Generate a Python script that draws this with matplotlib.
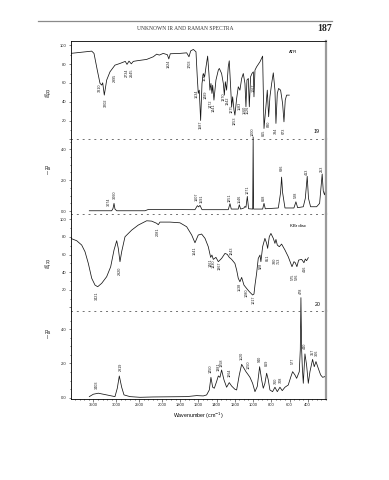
import numpy as np
import matplotlib
matplotlib.use('Agg')
import matplotlib.pyplot as plt
from matplotlib.lines import Line2D

plt.rcParams['font.family'] = ['Liberation Sans', 'DejaVu Sans']

# spectrum 19, IR (ATR): (wavenumber, %T)
ir19 = [(4000, 91.4), (3539, 93.8), (3489, 91.4), (3417, 73.6), (3357, 59.5), (3320, 57.7),
        (3298, 60.1), (3263, 47.0), (3211, 63.0), (3138, 71.8), (3029, 78.9), (2919, 80.7),
        (2803, 82.9), (2765, 79.7), (2721, 83.2), (2671, 80.3), (2627, 82.9), (2553, 83.5),
        (2333, 85.0), (2189, 87.8), (2114, 90.6), (2057, 89.6), (1985, 91.4), (1940, 90.0),
        (1924, 85.5), (1908, 91.0), (1802, 91.4), (1728, 92.0), (1703, 87.8), (1684, 94.1),
        (1655, 95.6), (1626, 93.1), (1612, 66.5), (1601, 48.8), (1590, 52.3), (1575, 20.0),
        (1560, 59.4), (1546, 70.0), (1531, 66.5), (1516, 77.1), (1498, 88.5), (1484, 70.0),
        (1473, 52.3), (1462, 59.4), (1451, 48.8), (1443, 57.6), (1429, 41.7), (1407, 63.0),
        (1381, 73.6), (1370, 75.4), (1345, 70.0), (1326, 59.4), (1315, 47.0), (1304, 61.2),
        (1290, 52.3), (1272, 77.1), (1261, 83.5), (1246, 55.9), (1235, 34.6), (1224, 45.2),
        (1209, 31.0), (1199, 25.7), (1180, 43.4), (1162, 55.9), (1144, 52.3), (1125, 64.7),
        (1107, 70.0), (1089, 59.4), (1078, 34.6), (1067, 63.0), (1052, 64.7), (1041, 34.6),
        (1027, 66.5), (1012, 70.0), (997, 71.8), (990, 45.2), (979, 73.6), (961, 77.1),
        (924, 82.5), (895, 88.5), (880, 11.5), (859, 34.6), (844, 52.3), (829, 24.0),
        (815, 45.2), (796, 59.4), (778, 70.7), (760, 52.3), (749, 16.9), (734, 48.8),
        (720, 54.1), (698, 52.3), (676, 38.1), (661, 18.6), (647, 41.7), (632, 47.0), (603, 47.0)]

# spectrum 19, Raman: (wavenumber, intensity)
ra19 = [(3592, 0.02), (3101, 0.02), (3072, 0.17), (3050, 0.5), (3029, 0.13), (2991, 0.02),
        (2371, 0.02), (2300, 0.1), (2000, 0.1), (1637, 0.09), (1611, 0.35), (1597, 0.27),
        (1582, 0.37), (1560, 0.09), (1272, 0.09), (1253, 0.48), (1239, 0.13), (1162, 0.13),
        (1151, 0.41), (1136, 0.13), (1100, 0.2), (1089, 0.3), (1078, 0.24), (1063, 0.95),
        (1049, 0.15), (1004, 0.13), (999, 4.8), (994, 0.13), (895, 0.13), (880, 0.5),
        (866, 0.15), (723, 0.2), (698, 1.2), (687, 2.2), (676, 1.2), (650, 0.2), (552, 0.2),
        (530, 0.6), (511, 0.22), (449, 0.28), (427, 0.82), (406, 2.25), (392, 0.82),
        (369, 0.28), (303, 0.28), (270, 0.5), (242, 2.4), (230, 1.3), (216, 1.05), (200, 1.5)]

# spectrum 20, IR (KBr disc)
ir20 = [(4000, 78.4), (3868, 75.7), (3759, 70.8), (3686, 63.2), (3614, 50.0), (3539, 33.0),
        (3467, 25.3), (3408, 23.4), (3320, 27.3), (3211, 34.8), (3123, 46.1), (3050, 65.1),
        (2991, 75.7), (2956, 67.0), (2919, 51.8), (2882, 63.2), (2809, 80.2), (2662, 87.8),
        (2518, 93.5), (2333, 98.4), (2224, 98.0), (2114, 95.5), (2079, 93.9), (2042, 96.9),
        (1911, 96.9), (1802, 96.1), (1728, 91.6), (1673, 82.2), (1637, 73.4), (1601, 82.2),
        (1564, 83.3), (1527, 78.4), (1491, 68.9), (1465, 56.8), (1451, 59.4), (1436, 54.5),
        (1407, 56.8), (1381, 51.9), (1345, 55.6), (1308, 61.3), (1283, 60.2), (1261, 56.8),
        (1235, 54.5), (1199, 49.9), (1180, 42.4), (1162, 32.9), (1144, 29.1), (1125, 34.0),
        (1100, 25.3), (1071, 21.5), (1041, 17.8), (1005, 14.0), (990, 15.1), (979, 25.3),
        (961, 38.6), (943, 55.6), (924, 59.4), (914, 51.9), (895, 68.9), (870, 78.4),
        (851, 72.7), (840, 67.0), (822, 80.3), (804, 84.0), (778, 78.4), (760, 72.7),
        (749, 77.2), (734, 70.8), (712, 68.9), (687, 71.9), (650, 65.1), (614, 57.5),
        (573, 46.2), (551, 51.9), (537, 50.7), (519, 46.2), (500, 53.7), (467, 54.5),
        (442, 50.7), (427, 54.9), (413, 53.0), (394, 56.4)]

# spectrum 20, Raman
ra20 = [(3592, 0.06), (3504, 0.2), (3395, 0.26), (3285, 0.2), (3138, 0.12), (3029, 0.06),
        (2978, 0.55), (2934, 1.27), (2882, 0.61), (2831, 0.16), (2700, 0.06), (2480, 0.02),
        (2189, 0.04), (1728, 0.06), (1618, 0.12), (1546, 0.1), (1509, 0.16), (1480, 0.45),
        (1462, 1.19), (1443, 0.61), (1425, 0.55), (1400, 0.94), (1381, 1.27), (1363, 1.19),
        (1345, 1.62), (1319, 1.04), (1290, 0.61), (1261, 0.88), (1235, 0.68), (1199, 0.49),
        (1180, 0.45), (1151, 1.33), (1125, 1.95), (1100, 1.72), (1078, 1.52), (1052, 1.33),
        (1034, 1.19), (1005, 0.84), (979, 0.35), (954, 0.65), (928, 1.81), (906, 1.04),
        (888, 0.55), (870, 0.84), (851, 1.43), (833, 1.04), (815, 0.45), (786, 0.35),
        (760, 0.61), (734, 0.35), (705, 0.61), (680, 0.41), (650, 0.61), (614, 0.74),
        (585, 1.23), (566, 1.52), (541, 1.33), (522, 1.13), (493, 1.52), (482, 2.79),
        (475, 5.85), (467, 2.79), (460, 1.81), (449, 0.84), (431, 2.56), (413, 1.91),
        (394, 0.84), (376, 1.52), (347, 2.24), (329, 1.81), (310, 2.11), (285, 1.72),
        (259, 1.33), (237, 1.19), (212, 1.23), (200, 1.33)]

# peak labels: (text, wavenumber position, height of label centre)
ir19_labels = [('3310', 3357, 54.5), ('3202', 3232, 39), ('2995', 3029, 65), ('2734', 2765, 71),
               ('2645', 2650, 71), ('1924', 1924, 80), ('1703', 1700, 80), ('1634', 1619, 48),
               ('1587', 1575, 15), ('1530', 1527, 67), ('1489', 1516, 47), ('1472', 1465, 37.4),
               ('1441', 1429, 33.7), ('1370', 1326, 45), ('1342', 1283, 40.6), ('1275', 1235, 32),
               ('1253', 1199, 19.4), ('1183', 1144, 35.3), ('1160', 1096, 31.6), ('1126', 1063, 31.6),
               ('1067', 990, 54.5), ('865', 880, 6.5), ('830', 826, 17), ('784', 749, 9),
               ('673', 661, 9)]
ra19_labels = [('3074', 3153, 0.62), ('3060', 3029, 1.07), ('1607', 1619, 0.9), ('1591', 1564, 0.78),
               ('1251', 1253, 0.87), ('1146', 1144, 0.81), ('1071', 1063, 1.36), ('1000', 999, 5.12),
               ('868', 880, 0.87), ('686', 687, 2.79), ('528', 530, 1.04), ('413', 406, 2.53),
               ('253', 242, 2.75)]
ir20_labels = [('3421', 3417, 12.8), ('2920', 2919, 41.3), ('2081', 2079, 85.6), ('1641', 1637, 64),
               ('1461', 1465, 50.9), ('1430', 1429, 49.2), ('1367', 1370, 47.7), ('1243', 1235, 64),
               ('1138', 1144, 23), ('1080', 1071, 16.8), ('1017', 997, 8.3), ('928', 914, 46.9),
               ('851', 840, 56.6), ('780', 760, 52.6), ('753', 712, 52.6), ('575', 566, 34.8),
               ('526', 515, 34.8), ('416', 431, 43.5)]
ra20_labels = [('3403', 3417, 0.77), ('2919', 2904, 1.8), ('1450', 1462, 1.7), ('1381', 1381, 1.81),
               ('1358', 1345, 2.06), ('1264', 1253, 1.43), ('1120', 1125, 2.44), ('1050', 1045, 1.91),
               ('940', 928, 2.26), ('869', 851, 2.03), ('760', 753, 1.0), ('708', 698, 1.03),
               ('577', 566, 2.15), ('478', 475, 6.24), ('440', 431, 3.02), ('357', 347, 2.67),
               ('306', 296, 2.64)]

x_major = [3500, 3000, 2500, 2000, 1800, 1600, 1400, 1200, 1000, 800, 600, 400]


# wavenumber axis is stretched 2x below 2000 cm-1
def fwd(w):
    w = np.asarray(w, dtype=float)
    return np.where(w <= 2000, 2 * w, w + 2000)


def inv(u):
    u = np.asarray(u, dtype=float)
    return np.where(u <= 4000, u / 2, u - 2000)


fig = plt.figure(figsize=(3.89, 4.80), dpi=100)
W, H = 389, 480
x0, x1 = 70.7, 326.0
bands = [(40.7, 139.3), (139.3, 214.0), (214.0, 311.0), (311.0, 398.5)]
ylims = [(0, 104.9), (-0.19, 4.65), (-4.2, 106.1), (-0.05, 5.07)]
series = [ir19, ra19, ir20, ra20]
labels = [ir19_labels, ra19_labels, ir20_labels, ra20_labels]
is_ir = [True, False, True, False]

x_minor = list(range(3900, 2000, -100)) + list(range(1950, 199, -50))
lc = '#151515'
axes = []
for i, (top, bot) in enumerate(bands):
    ax = fig.add_axes([x0 / W, 1 - bot / H, (x1 - x0) / W, (bot - top) / H])
    ax.patch.set_alpha(0)
    ax.set_xscale('function', functions=(fwd, inv))
    ax.set_xlim(4000, 200)
    ax.set_ylim(*ylims[i])
    wn, val = zip(*series[i])
    ax.plot(wn, val, color=lc, lw=0.55, clip_on=is_ir[i])
    for txt, pos, lev in labels[i]:
        ax.text(pos, lev, txt, rotation=90, ha='center', va='center', fontsize=2.7,
                color='#222', clip_on=False)

    ax.set_xticks(x_major)
    ax.set_xticks(x_minor, minor=True)
    if is_ir[i]:
        ax.set_yticks([0, 20, 40, 60, 80, 100])
        ax.set_yticklabels(['', '20', '40', '60', '80', '100'])
        ax.set_yticks(range(10, 101, 20), minor=True)
    else:
        ax.set_yticks([0, 2, 4])
        ax.set_yticklabels(['0.0', '2.0', '4.0'])
        ax.set_yticks([0.5, 1, 1.5, 2.5, 3, 3.5, 4.5], minor=True)
    ax.tick_params(axis='y', which='major', length=1.8, width=0.4, pad=1.4,
                   labelsize=3.0, colors='#222')
    ax.tick_params(axis='y', which='minor', length=1.0, width=0.4)

    ax.spines['left'].set_linewidth(0.6)
    ax.spines['right'].set_color('#9a9a9a')
    ax.spines['right'].set_linewidth(1.6)
    if i > 0:
        ax.spines['top'].set_visible(False)
    else:
        ax.spines['top'].set_linewidth(0.6)
    if i < 3:
        ax.spines['bottom'].set_linestyle((0, (1, 5)))
        ax.spines['bottom'].set_linewidth(0.7)
        ax.spines['bottom'].set_color('#707070')
        ax.tick_params(axis='x', which='both', bottom=False, labelbottom=False)
    else:
        ax.spines['bottom'].set_linewidth(0.6)
        ax.set_xticklabels([str(v) for v in x_major])
        ax.tick_params(axis='x', which='major', length=1.8, width=0.4, pad=1.6,
                       labelsize=3.0, colors='#222')
        ax.tick_params(axis='x', which='minor', length=1.0, width=0.4)
        ax.set_xlabel('Wavenumber (cm$^{-1}$)', fontsize=3.8, labelpad=2.2)
    axes.append(ax)

# panel annotations
axes[0].text(562, 93, 'ATR', fontsize=3.2, ha='center', va='center')
axes[0].text(299, 8, '19', fontsize=3.8, ha='center', va='center')
axes[2].text(508, 92.4, 'KBr disc', fontsize=3.2, ha='center', va='center')
axes[2].text(288, 3.7, '20', fontsize=3.8, ha='center', va='center')

for yc, t in [(94.5, 'IR\n%T'), (170.8, 'Ra\nI'), (264.7, 'IR\n%T'), (335, 'Ra\nI')]:
    fig.text(47.5 / W, 1 - yc / H, t, fontsize=3.4, ha='center', va='center',
             linespacing=1.0, color='#222')

# page header
fig.add_artist(Line2D([38 / W, 332 / W], [1 - 21 / H, 1 - 21 / H], color='#8a8a8a', lw=0.9))
fig.text(185 / W, 1 - 28.5 / H, 'UNKNOWN IR AND RAMAN SPECTRA', fontsize=4.0,
         family=['Liberation Serif', 'DejaVu Serif'], ha='center', va='center', color='#333')
fig.text(332 / W, 1 - 28.5 / H, '187', fontsize=7, weight='bold',
         family=['Liberation Serif', 'DejaVu Serif'], ha='right', va='center', color='#222')

fig.savefig('out.png', dpi=100)
